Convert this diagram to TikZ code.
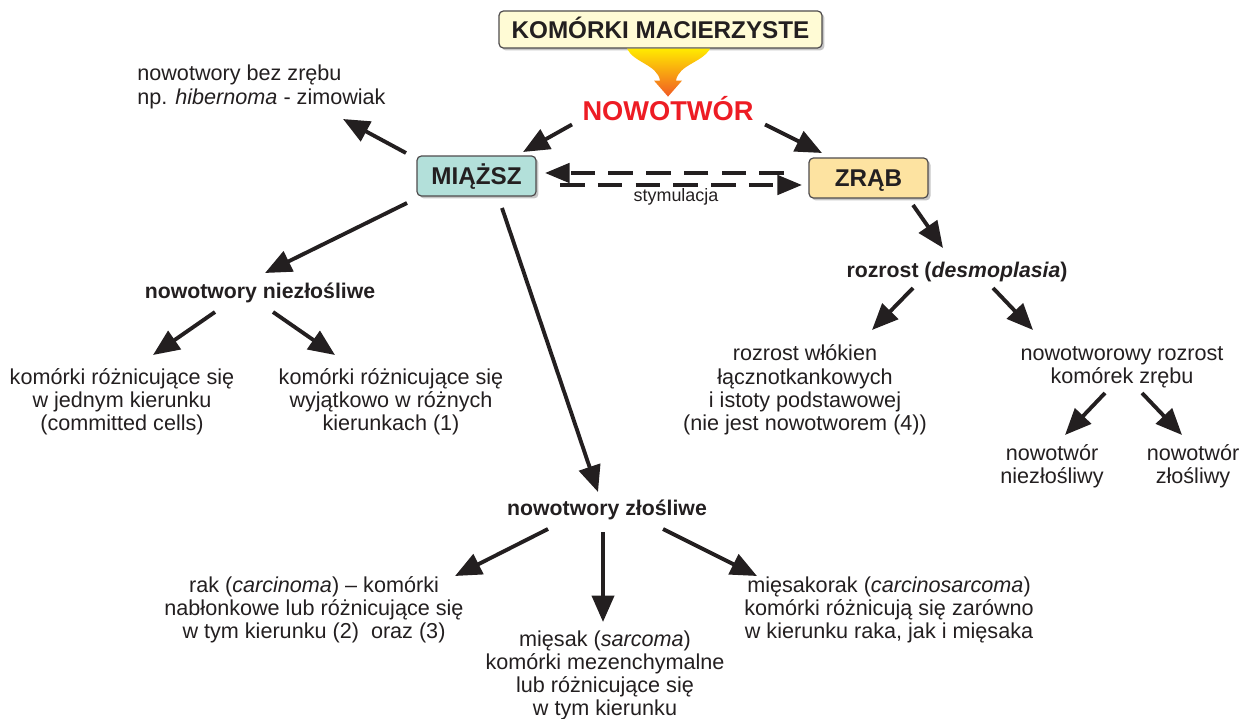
\documentclass[tikz,border=0pt]{standalone}
\usepackage{fontspec}
\setmainfont{Liberation Sans}
\usetikzlibrary{arrows.meta,shadows}

\definecolor{ink}{HTML}{231F20}
\definecolor{tumourred}{HTML}{ED1C24}
\definecolor{creambox}{HTML}{FFFBD5}
\definecolor{tealbox}{HTML}{B3E0DA}
\definecolor{sandbox}{HTML}{FDE3A1}
\definecolor{funneltop}{HTML}{FFEA00}
\definecolor{funnelbot}{HTML}{F15A24}

\begin{document}
\begin{tikzpicture}[x=0.02cm,y=-0.02cm,
    box/.style={draw=ink!80,line width=0.7pt,rounded corners=2.5pt,minimum width=2.38cm,minimum height=0.8cm,
      text=ink,text height=9.9pt,text depth=0pt,font=\fontsize{13.8}{16}\selectfont\bfseries,
      drop shadow={shadow xshift=0.05cm,shadow yshift=-0.05cm,opacity=0.45}},
    label text/.style={inner sep=0pt,align=center,text=ink,font=\fontsize{12.3}{13.2}\selectfont},
    head text/.style={label text,font=\fontsize{12.1}{13.2}\selectfont\bfseries},
    arr/.style={color=ink,line width=2.2pt,-{Triangle[length=15pt,width=12.5pt]}},
    stim/.style={color=ink,line width=2.2pt,dash pattern=on 14pt off 7.5pt,-{Triangle[length=14pt,width=11pt]}}]
  \useasboundingbox (0,0) rectangle (1246,719);

  \node[box,fill=creambox,minimum width=6.46cm,minimum height=0.74cm] (title) at (660.5,29.5) {KOMÓRKI MACIERZYSTE};
  \node[inner sep=0pt,text=tumourred,text height=11.1pt,text depth=0pt,font=\fontsize{15.5}{18}\selectfont\bfseries] (nowotwor) at (668,110.5) {NOWOTWÓR};
  \node[box,fill=tealbox] (miazsz) at (476.5,176) {MIĄŻSZ};
  \node[box,fill=sandbox] (zrab) at (868.5,178) {ZRĄB};
  \node[label text,font=\fontsize{10.2}{12}\selectfont] (stymulacja) at (676,197) {stymulacja};

  \node[label text,anchor=west,align=left] (bezzrebu) at (137,87) {nowotwory bez zrębu\\np. \textit{hibernoma} - zimowiak};
  \node[head text] (niezlosliwe) at (260,293) {nowotwory niezłośliwe};
  \node[label text] (jeden) at (122,401.5) {komórki różnicujące się\\w jednym kierunku\\(committed cells)};
  \node[label text] (rozne) at (391,401.5) {komórki różnicujące się\\wyjątkowo w różnych\\kierunkach (1)};

  \node[head text] (zlosliwe) at (607,510) {nowotwory złośliwe};
  \node[label text] (rak) at (314,610) {rak (\textit{carcinoma}) -- komórki\\nabłonkowe lub różnicujące się\\w tym kierunku (2)~ oraz (3)};
  \node[label text,font=\fontsize{12.3}{13}\selectfont] (miesak) at (605,675.5) {mięsak (\textit{sarcoma})\\komórki mezenchymalne\\lub różnicujące się\\w tym kierunku};
  \node[label text] (miesakorak) at (889,610) {mięsakorak (\textit{carcinosarcoma})\\komórki różnicują się zarówno\\w kierunku raka, jak i mięsaka};

  \node[head text] (rozrost) at (957,272) {rozrost (\textit{desmoplasia})};
  \node[label text] (wlokna) at (805,390) {rozrost włókien\\łącznotkankowych\\i istoty podstawowej\\(nie jest nowotworem (4))};
  \node[label text] (zrebowy) at (1122,367) {nowotworowy rozrost\\komórek zrębu};
  \node[label text] (lagodny) at (1052,466) {nowotwór\\niezłośliwy};
  \node[label text] (zlosliwy) at (1193,466) {nowotwór\\złośliwy};

  % funnel from the stem cells down to the tumour
  \begin{scope}[shift={(title.south)}]
    \shade[top color=funneltop,bottom color=funnelbot]
      (-33.5,0) -- (49.5,0) .. controls (42,14) and (18,16) .. (15.5,32) -- (21.5,32) -- (7.5,48)
      -- (-6.5,32) -- (-0.5,32) .. controls (-3,16) and (-27,14) .. (-33.5,0) -- cycle;
  \end{scope}

  \path[arr]
    ([shift={(-96,14)}]nowotwor.center) edge ([shift={(46.5,-24)}]miazsz.center)
    ([shift={(97,14)}]nowotwor.center) edge ([shift={(-46.5,-25)}]zrab.center)
    ([shift={(-70.5,-23)}]miazsz.center) edge ([shift={(206,32)}]bezzrebu.west)
    ([shift={(-69.5,27)}]miazsz.center) edge ([shift={(5,-20)}]niezlosliwe.center)
    ([shift={(-45,19)}]niezlosliwe.center) edge ([shift={(31,-46.5)}]jeden.center)
    ([shift={(13,19)}]niezlosliwe.center) edge ([shift={(-56,-46.5)}]rozne.center)
    ([shift={(25.5,32)}]miazsz.center) edge ([shift={(-9,-18)}]zlosliwe.center)
    ([shift={(-59,19)}]zlosliwe.center) edge ([shift={(141,-34)}]rak.center)
    ([shift={(-4,22)}]zlosliwe.center) edge ([shift={(-2,-53.5)}]miesak.center)
    ([shift={(56,19)}]zlosliwe.center) edge ([shift={(-132,-34)}]miesakorak.center)
    ([shift={(44.5,27)}]zrab.center) edge ([shift={(-14,-24)}]rozrost.center)
    ([shift={(-44,16)}]rozrost.center) edge ([shift={(67,-60)}]wlokna.center)
    ([shift={(36,16)}]rozrost.center) edge ([shift={(-89,-37)}]zrebowy.center)
    ([shift={(-17,26)}]zrebowy.center) edge ([shift={(13,-31)}]lagodny.center)
    ([shift={(20,26)}]zrebowy.center) edge ([shift={(-11,-31)}]zlosliwy.center);

  \path[stim]
    ([shift={(-84.5,-5)}]zrab.center) edge ([shift={(68.5,-3)}]miazsz.center)
    ([shift={(83.5,9)}]miazsz.center) edge ([shift={(-66.5,7)}]zrab.center);
\end{tikzpicture}
\end{document}
